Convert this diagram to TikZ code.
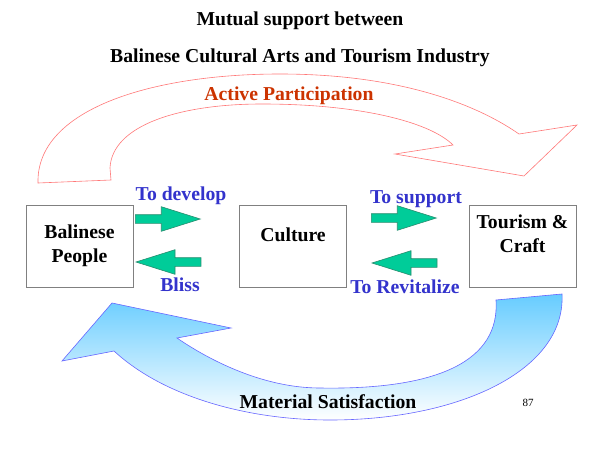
\documentclass[tikz,border=0pt]{standalone}
\usepackage{fontspec}
\setmainfont{Liberation Serif}
\usetikzlibrary{shapes.arrows, positioning}

\definecolor{boxgray}{RGB}{128,128,128}
\definecolor{labblue}{RGB}{51,51,204}
\definecolor{partred}{RGB}{204,51,0}
\definecolor{ringred}{RGB}{255,120,120}
\definecolor{arrgreen}{RGB}{0,204,153}
\definecolor{arrline}{RGB}{40,140,110}
\definecolor{skyblue}{RGB}{102,204,255}
\definecolor{ringblue}{RGB}{102,102,255}

\begin{document}
\begin{tikzpicture}[
  x=1pt, y=-1pt,
  every node/.style = {font=\fontsize{19.7}{24}\selectfont\bfseries},
  box/.style      = {rectangle, draw=boxgray, line width=0.8pt,
                     minimum width=107pt, minimum height=82pt},
  boxtext/.style  = {align=center, inner sep=0pt},
  bluelab/.style  = {text=labblue, anchor=base, inner sep=0pt},
  greenarr/.style = {single arrow, draw=arrline, fill=arrgreen,
                     line width=0.6pt, inner sep=4pt,
                     minimum height=65pt,
                     single arrow head extend=8pt,
                     single arrow tip angle=35},
  leftarr/.style  = {greenarr, shape border rotate=180},
]
\useasboundingbox (0,0) rectangle (600,450);

%% ── Title ─────────────────────────────────────────────────────────────────
\node[anchor=base, inner sep=0pt] (title1) at (300,25.7) {Mutual support between};
\node[anchor=base, inner sep=0pt] (title2) at (300,62.7)
  {Balinese Cultural Arts and Tourism Industry};

%% ── Upper ring arrow ──────────────────────────────────────────────────────
\draw[ringred, fill=white, line width=0.6pt]
  (38,183) .. controls (36,110) and (150,74) .. (280,74)
           .. controls (390,74) and (470,100) .. (519,134)
  -- (577,125) -- (524,176) -- (395,154) -- (453,145)
           .. controls (430,122) and (360,104) .. (262,104)
           .. controls (180,104) and (112,125) .. (110,168)
  -- (111,180) -- cycle;
\node[text=partred, anchor=base, inner sep=0pt] (part) at (289,100)
  {Active Participation};

%% ── Lower ring arrow ──────────────────────────────────────────────────────
\path[draw=ringblue, top color=skyblue, bottom color=white, line width=0.6pt]
  (62,361) -- (112,303) -- (231,328) -- (177,338)
           .. controls (212,362) and (265,388) .. (320,388)
           .. controls (440,390) and (500,360) .. (496,300)
  -- (562,294)
           .. controls (566,370) and (460,420) .. (330,420)
           .. controls (250,420) and (165,398) .. (114,351)
  -- cycle;
\node[anchor=base, inner sep=0pt] (mat) at (328,408) {Material Satisfaction};
\node[font=\fontsize{11}{13}\selectfont, anchor=base, inner sep=0pt] (pg)
  at (528,406) {87};

%% ── Boxes ─────────────────────────────────────────────────────────────────
\node[box] (people)  at (79.5,246) {};
\node[box] (culture) at (293,246)  {};
\node[box] (tourism) at (522.5,246) {};

\node[boxtext] at (people.center) {Balinese\\People};
\node[boxtext] at ([yshift=11pt]culture.center) {Culture};
\node[boxtext] at ([yshift=12pt]tourism.center) {Tourism \&\\Craft};

%% ── Green arrows ──────────────────────────────────────────────────────────
\node[greenarr, anchor=tail] (develop)    at (135,219) {};
\node[leftarr,  anchor=tip]  (bliss)      at (135,262) {};
\node[greenarr, anchor=tail] (support)    at (371,218) {};
\node[leftarr,  anchor=tip]  (revitalize) at (371,263) {};

\node[bluelab] at (181,200) {To develop};
\node[bluelab] at (180,291) {Bliss};
\node[bluelab] at (416,203) {To support};
\node[bluelab] at (405,293) {To Revitalize};

\end{tikzpicture}
\end{document}
